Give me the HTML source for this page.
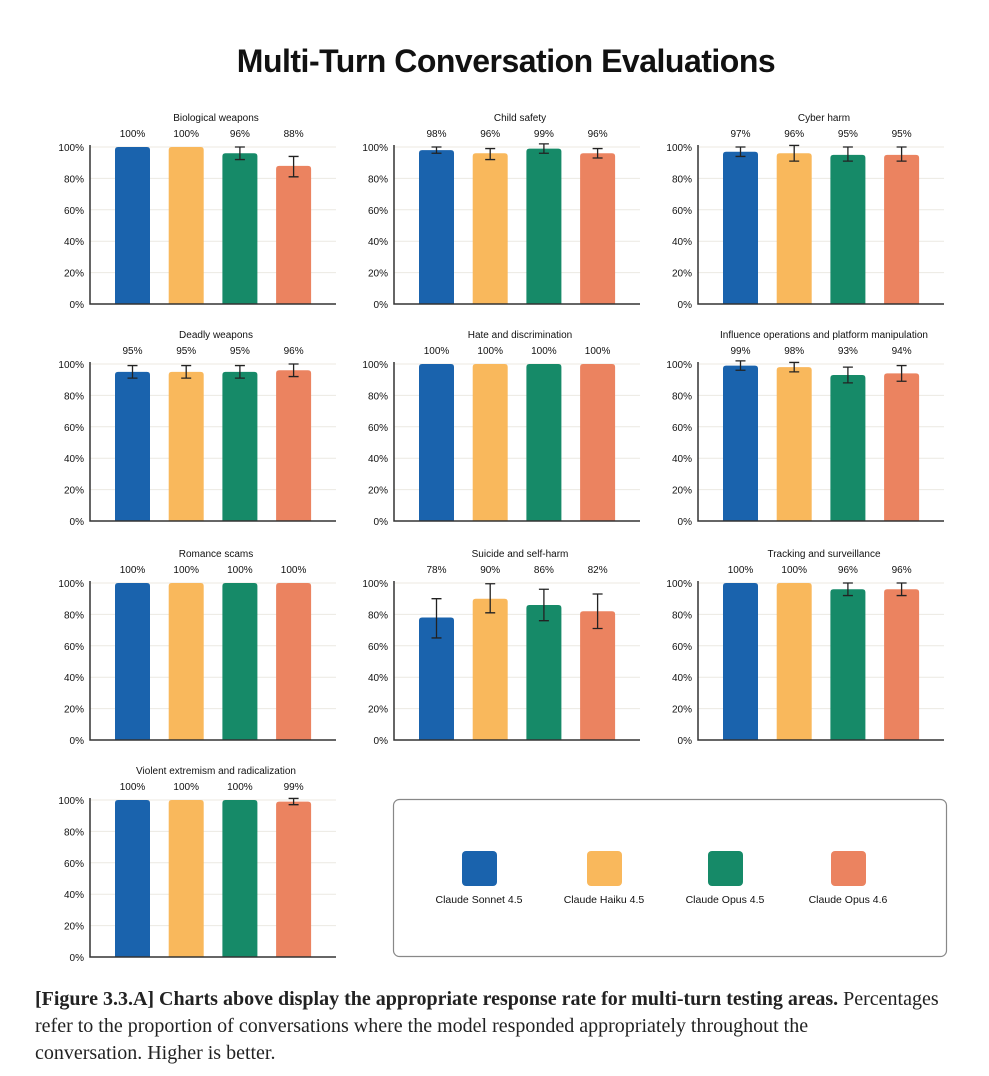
<!DOCTYPE html>
<html><head><meta charset="utf-8">
<style>
body{margin:0;background:#fff;width:989px;height:1076px;overflow:hidden;font-family:"Liberation Sans",sans-serif;}
#title{position:absolute;left:0;width:1012px;top:43px;text-align:center;font-size:32px;font-weight:bold;color:#111;letter-spacing:-0.5px;}
#caption{position:absolute;left:35px;top:986px;width:960px;font-family:"Liberation Serif",serif;font-size:20px;line-height:27px;color:#222;white-space:nowrap;}
svg{position:absolute;left:0;top:0;}
</style></head><body>
<div id="title">Multi-Turn Conversation Evaluations</div>
<svg id="chart" width="989" height="1076"></svg>
<div id="caption"><b>[Figure 3.3.A] Charts above display the appropriate response rate for multi-turn testing areas.</b> Percentages<br>refer to the proportion of conversations where the model responded appropriately throughout the<br>conversation. Higher is better.</div>
<script>
const panelTitles=["Biological weapons","Child safety","Cyber harm","Deadly weapons","Hate and discrimination","Influence operations and platform manipulation","Romance scams","Suicide and self-harm","Tracking and surveillance","Violent extremism and radicalization"];
const models=["Claude Sonnet 4.5","Claude Haiku 4.5","Claude Opus 4.5","Claude Opus 4.6"];
const colors=["#1a63ad","#f9b85c","#168a68","#eb8360"];
const values=[[100,100,96,88],[98,96,99,96],[97,96,95,95],[95,95,95,96],[100,100,100,100],[99,98,93,94],[100,100,100,100],[78,90,86,82],[100,100,96,96],[100,100,100,99]];
const errLow=[[0,0,92,81],[96,92,96,93],[94,91,91,91],[91,91,91,92],[0,0,0,0],[96,95,88,89],[0,0,0,0],[65,81,76,71],[0,0,92,92],[0,0,0,97]];
const errHigh=[[0,0,100,94],[100,99,102,99],[100,101,100,100],[99,99,99,100],[0,0,0,0],[102,101,98,99],[0,0,0,0],[90,99.5,96,93],[0,0,100,100],[0,0,0,101]];
const ticks=[0,20,40,60,80,100];
const svg=document.getElementById('chart');
const NS='http://www.w3.org/2000/svg';
function mk(tag,attrs,parent){const e=document.createElementNS(NS,tag);for(const k in attrs)e.setAttribute(k,attrs[k]);(parent||svg).appendChild(e);return e;}
const colX=[90,394,698], rowY=[304,521,740,957];
const plotH=157, plotW=246, barW=35;
values.forEach((vals,p)=>{
  const ox=colX[p%3], base=rowY[Math.floor(p/3)];
  const g=mk('g',{});
  
  
  const yS=v=>base-v/100*plotH;
  const xS=i=>ox+25+i*53.7;
  ticks.forEach(t=>{
    if(t>0){const l=mk('line',{x1:ox,x2:ox+plotW,y1:yS(t),y2:yS(t),stroke:'#ece9e2','stroke-width':1},g);}
    const tx=mk('text',{x:ox-6,y:yS(t)+4,'text-anchor':'end','font-size':10,fill:'#111'},g);tx.textContent=t+'%';
    
  });
  const tt=mk('text',{x:ox+126,y:base-183,'text-anchor':'middle','font-size':10,fill:'#111'},g);tt.textContent=panelTitles[p];
  
  vals.forEach((v,i)=>{
    const y=yS(v);
    const b=mk('path',{d:`M${xS(i)},${base} V${y+3} Q${xS(i)},${y} ${xS(i)+3},${y} H${xS(i)+barW-3} Q${xS(i)+barW},${y} ${xS(i)+barW},${y+3} V${base} Z`,fill:colors[i]},g);
    
    const lb=mk('text',{x:xS(i)+barW/2,y:base-167,'text-anchor':'middle','font-size':10,fill:'#111'},g);lb.textContent=v+'%';
    
    if(errHigh[p][i]>0){
      const cx=xS(i)+barW/2, y1=yS(errHigh[p][i]), y2=yS(errLow[p][i]);
      const e=mk('path',{d:`M${cx},${y1}V${y2}M${cx-5},${y1}H${cx+5}M${cx-5},${y2}H${cx+5}`,stroke:'#222','stroke-width':1.3,fill:'none'},g);
      
    }
  });
  const ax=mk('path',{d:`M${ox},${base-plotH-2}V${base}H${ox+plotW}`,stroke:'#333','stroke-width':1.5,fill:'none'},g);
  
});
const lg=mk('g',{});

mk('rect',{x:393.5,y:799.5,width:553,height:157,rx:6,fill:'#fff',stroke:'#888','stroke-width':1.2},lg);
const lx=[479,604,725,848];
models.forEach((m,i)=>{
  const r=mk('rect',{x:lx[i]-17,y:851,width:35,height:35,rx:4,fill:colors[i]},lg);
  
  const t=mk('text',{x:lx[i],y:903,'text-anchor':'middle','font-size':10.5,fill:'#111'},lg);t.textContent=m;
  
});
</script>
</body></html>
